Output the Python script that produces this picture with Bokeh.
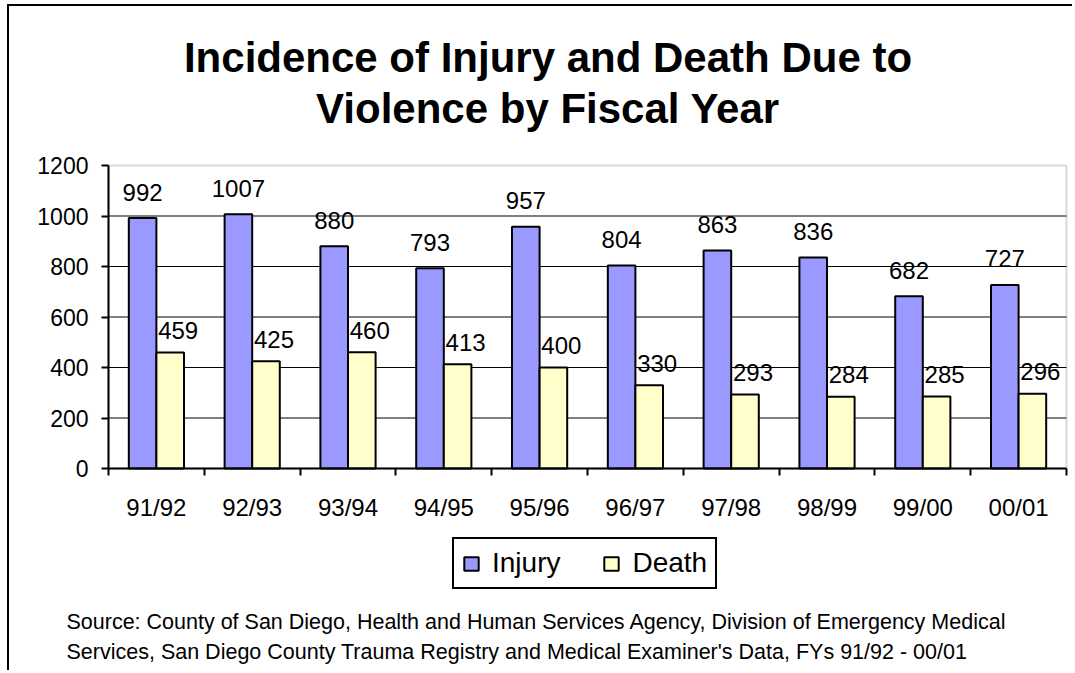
from bokeh.plotting import figure
from bokeh.models import Range1d, FixedTicker, Legend, LegendItem, ColumnDataSource, Label, BoxAnnotation
from bokeh.transform import dodge
from bokeh.core.properties import value
from bokeh.embed import file_html
from bokeh.resources import INLINE

years = ["91/92", "92/93", "93/94", "94/95", "95/96", "96/97", "97/98", "98/99", "99/00", "00/01"]
injury = [992, 1007, 880, 793, 957, 804, 863, 836, 682, 727]
death = [459, 425, 460, 413, 400, 330, 293, 284, 285, 296]
y_ticks = [0, 200, 400, 600, 800, 1000, 1200]
series_names = ["Injury", "Death"]
title_lines = ["Incidence of Injury and Death Due to", "Violence by Fiscal Year"]
source_lines = [
    "Source: County of San Diego, Health and Human Services Agency, Division of Emergency Medical",
    "Services, San Diego County Trauma Registry and Medical Examiner's Data, FYs 91/92 - 00/01",
]

FONT = "Liberation Sans"
W, H = 1072, 670
# plot-area rectangle in canvas pixels
PL, PT, PR, PB = 108, 165, 1066, 468

n = len(years)
ymin, ymax = y_ticks[0], y_ticks[-1]
# The whole canvas is the frame, so titles, legend and note are not clipped;
# ranges are extended so that the data region lands on the plot-area rectangle.
xu = n / (PR - PL)
yu = (ymax - ymin) / (PB - PT)
x_range = Range1d(0 - PL * xu, n + (W - PR) * xu)
y_range = Range1d(ymin - (H - PB) * yu, ymax + PT * yu)

pos = [i + 0.5 for i in range(n)]
src = ColumnDataSource(dict(
    x=pos, injury=injury, death=death,
    inj_txt=[str(v) for v in injury], dth_txt=[str(v) for v in death],
))

p = figure(width=W, height=H, x_range=x_range, y_range=y_range,
           output_backend="svg", toolbar_location=None, min_border=0)
p.background_fill_color = None
p.border_fill_color = None
p.outline_line_color = None
# outer chart-area frame (top and left edges) behind the transparent canvas
p.styles = {
    "background": ("linear-gradient(#000, #000) 7px 4px / 2px 100% no-repeat, "
                   "linear-gradient(#000, #000) 7px 4px / 100% 2px no-repeat, #fff"),
}

# plot-area border (grey top/right; left/bottom covered by the axes)
p.add_layout(BoxAnnotation(left=0, right=n, bottom=ymin, top=ymax, fill_color=None,
                           line_color="#808080", line_width=2, level="underlay"))

# horizontal grid lines inside the plot area
grid_vals = y_ticks[1:-1]
p.segment(x0=[0] * len(grid_vals), x1=[n] * len(grid_vals), y0=grid_vals, y1=grid_vals,
          line_color="black", line_width=1)

bw = 0.288
r1 = p.vbar(x=dodge("x", -bw / 2, range=p.x_range), top="injury", bottom=ymin, width=bw, source=src,
            fill_color="#9999FF", line_color="black", line_width=2)
r2 = p.vbar(x=dodge("x", bw / 2, range=p.x_range), top="death", bottom=ymin, width=bw, source=src,
            fill_color="#FFFFCC", line_color="black", line_width=2)

p.text(x=dodge("x", -bw / 2, range=p.x_range), y="injury", text="inj_txt", source=src,
       text_align="center", text_baseline="middle", y_offset=-26,
       text_font=value(FONT), text_font_size="24px", text_color="black")
p.text(x=dodge("x", bw / 2, range=p.x_range), y="death", text="dth_txt", source=src,
       text_align="center", text_baseline="middle", y_offset=-22, x_offset=8,
       text_font=value(FONT), text_font_size="24px", text_color="black")

p.xgrid.visible = False
p.ygrid.visible = False

# y axis
ya = p.yaxis[0]
ya.fixed_location = 0
ya.bounds = (ymin, ymax)
ya.ticker = FixedTicker(ticks=y_ticks)
ya.axis_line_width = 2
ya.axis_line_color = "black"
ya.major_tick_out = 7
ya.major_tick_in = 0
ya.major_tick_line_width = 2
ya.major_tick_line_color = "black"
ya.minor_tick_out = 0
ya.minor_tick_in = 0
ya.major_label_text_font = FONT
ya.major_label_text_font_size = "23px"
ya.major_label_text_color = "black"
ya.major_label_standoff = 13

# x axis (labels at category centres, tick marks at category boundaries)
xa = p.xaxis[0]
xa.fixed_location = ymin
xa.bounds = (0, n)
xa.ticker = FixedTicker(ticks=pos, minor_ticks=list(range(n + 1)))
xa.major_label_overrides = {pos[i]: years[i] for i in range(n)}
xa.axis_line_width = 2
xa.axis_line_color = "black"
xa.major_tick_out = 0
xa.major_tick_in = 0
xa.minor_tick_out = 7
xa.minor_tick_in = 0
xa.minor_tick_line_width = 2
xa.minor_tick_line_color = "black"
xa.major_label_text_font = FONT
xa.major_label_text_font_size = "24px"
xa.major_label_text_color = "black"
xa.major_label_standoff = 18

legend = Legend(items=[LegendItem(label=series_names[0], renderers=[r1]),
                       LegendItem(label=series_names[1], renderers=[r2])],
                location=(452, H - 589), orientation="horizontal",
                border_line_color="black", border_line_width=2, border_line_alpha=1,
                background_fill_color="white", background_fill_alpha=1,
                label_text_font=FONT, label_text_font_size="28px", label_text_color="black",
                glyph_width=18, glyph_height=17, label_standoff=12, spacing=42, padding=8)
p.add_layout(legend, "center")

# Title (two lines) and source note, in screen units (origin at the bottom-left)
for txt, bx, by in [(title_lines[0], 547.5, 57), (title_lines[1], 547.5, 108)]:
    p.add_layout(Label(x=bx, y=H - by, x_units="screen", y_units="screen", text=txt,
                       text_align="center", text_baseline="middle", text_font=FONT,
                       text_font_style="bold", text_font_size="42px", text_color="black"))
for txt, bx, by in [(source_lines[0], 66, 621), (source_lines[1], 66, 651)]:
    p.add_layout(Label(x=bx, y=H - by, x_units="screen", y_units="screen", text=txt,
                       text_align="left", text_baseline="middle", text_font=FONT,
                       text_font_size="21.5px", text_color="black"))

open("out.html", "w").write(file_html(p, INLINE))
